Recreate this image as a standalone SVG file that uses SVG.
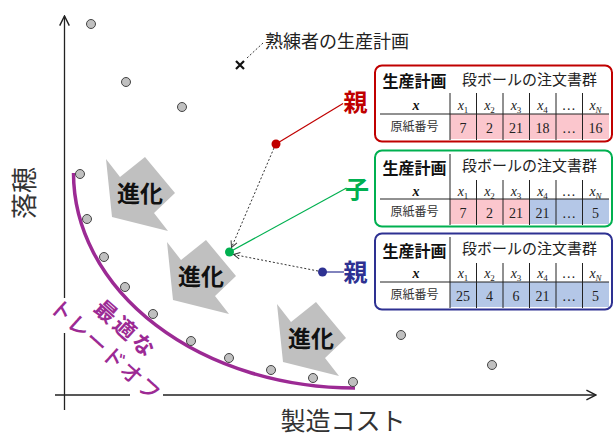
<svg xmlns="http://www.w3.org/2000/svg" width="613" height="437" viewBox="0 0 613 437">
<defs>
<style>
.sans{font-family:"Noto Sans CJK JP","Noto Sans",sans-serif}
.serif{font-family:"Liberation Serif","Times New Roman",serif}
.axis{stroke:#222;stroke-width:1.3;fill:none}
.dot{fill:#c0c0c0;stroke:#444;stroke-width:1}
.evo{fill:#c0c0c0}
.evot{font-family:"Noto Sans CJK JP",sans-serif;font-weight:bold;font-size:23px;fill:#111;text-anchor:middle}
.pink{fill:#fbc6cd}
.blue{fill:#b4c7e7}
.sep{stroke:#222;stroke-width:1;fill:none}
.hd{font-family:"Noto Sans CJK JP",sans-serif;font-weight:bold;font-size:16px;fill:#111;text-anchor:middle}
.hd2{font-family:"Noto Sans CJK JP",sans-serif;font-size:15px;fill:#222}
.lab{font-family:"Noto Sans CJK JP",sans-serif;font-size:12px;fill:#333;text-anchor:middle}
.xh{font-family:"Liberation Serif",serif;font-style:italic;font-size:14px;fill:#222;text-anchor:middle}
.xb{font-family:"Liberation Serif",serif;font-style:italic;font-weight:bold;font-size:14px;fill:#111;text-anchor:middle}
.val{font-family:"Liberation Serif",serif;font-size:14px;fill:#222;text-anchor:middle}
.rel{font-family:"Noto Sans CJK JP",sans-serif;font-weight:bold;font-size:24px;text-anchor:middle}
.dotted{stroke:#333;stroke-width:1;stroke-dasharray:2,2;fill:none}
</style>
<marker id="ah" viewBox="0 0 10 10" refX="9" refY="5" markerWidth="8" markerHeight="8" markerUnits="userSpaceOnUse" orient="auto"><path d="M1,1 L9,5 L1,9" fill="none" stroke="#333" stroke-width="1.2"/></marker>
<marker id="axh" viewBox="0 0 10 10" refX="9" refY="5" markerWidth="12" markerHeight="12" markerUnits="userSpaceOnUse" orient="auto"><path d="M1,1 L9,5 L1,9" fill="none" stroke="#222" stroke-width="1.2"/></marker>
<polygon id="evoShape" class="evo" points="-34,-35 -20,-17 5,-37 35,-1 14,19 28,37 -28,23"/>
</defs>

<g id="axes">
<path class="axis" d="M64.5,410 L64.5,333 M64.5,298 L64.5,16" marker-end="url(#axh)"/>
<path class="axis" d="M55,395 L130,395 M163,395 L596,395" marker-end="url(#axh)"/>
<text class="sans" font-size="26" fill="#333" text-anchor="middle" transform="translate(34,193) rotate(-90)">落穂</text>
<text class="sans" font-size="25" fill="#333" text-anchor="middle" x="343" y="429.5">製造コスト</text>
</g>

<g id="evolution">
<g id="evo1" transform="translate(140,194)"><use href="#evoShape"/><text class="evot" x="0" y="8">進化</text></g>
<g id="evo2" transform="translate(201,277)"><use href="#evoShape"/><text class="evot" x="0" y="8">進化</text></g>
<g id="evo3" transform="translate(311,339)"><use href="#evoShape"/><text class="evot" x="0" y="8">進化</text></g>
</g>

<g id="tradeoff">
<path d="M73.5,173 A281,215 0 0 0 355,388" fill="none" stroke="#9c2a94" stroke-width="3.5"/>
<g transform="translate(115,339) rotate(42)">
<text class="sans" font-size="22" font-weight="bold" fill="#9c2a94" text-anchor="middle" letter-spacing="3" x="1.5" y="-6.5">最適な</text>
<text class="sans" font-size="22" font-weight="500" fill="#9c2a94" text-anchor="middle" letter-spacing="1.5" x="0.75" y="22.5">トレードオフ</text>
</g>
</g>

<g id="points">
<circle class="dot" cx="91" cy="24" r="4.5"/>
<circle class="dot" cx="126" cy="82" r="4.5"/>
<circle class="dot" cx="182" cy="107" r="4.5"/>
<circle class="dot" cx="80" cy="174" r="4.5"/>
<circle class="dot" cx="87" cy="219" r="4.5"/>
<circle class="dot" cx="104" cy="257" r="4.5"/>
<circle class="dot" cx="125" cy="287" r="4.5"/>
<circle class="dot" cx="153" cy="314" r="4.5"/>
<circle class="dot" cx="191" cy="341" r="4.5"/>
<circle class="dot" cx="229" cy="358" r="4.5"/>
<circle class="dot" cx="271" cy="370" r="4.5"/>
<circle class="dot" cx="313" cy="378" r="4.5"/>
<circle class="dot" cx="353" cy="382" r="4.5"/>
<circle class="dot" cx="401" cy="335" r="4.5"/>
<circle class="dot" cx="492" cy="365" r="4.5"/>
</g>

<g id="expert">
<path d="M236,61 L244,69 M244,61 L236,69" stroke="#111" stroke-width="2.2"/>
<path class="dotted" d="M247,58 L263,43"/>
<text class="sans" font-size="18" fill="#222" x="265" y="48">熟練者の生産計画</text>
</g>

<g id="connectors">
<line x1="276" y1="144" x2="343" y2="103.5" stroke="#c00000" stroke-width="1.2"/>
<line x1="229.5" y1="252" x2="346.5" y2="188" stroke="#00b050" stroke-width="1.2"/>
<line x1="322.5" y1="272" x2="344" y2="272" stroke="#2e3192" stroke-width="1.2"/>
<path class="dotted" d="M274,148 L231.5,247.5" marker-end="url(#ah)"/>
<path class="dotted" d="M318,271 L233.5,254.5" marker-end="url(#ah)"/>
</g>

<g id="parentA">
<circle cx="276" cy="144" r="4.5" fill="#c00000"/>
<text class="rel" fill="#c00000" x="355.5" y="111">親</text>
</g>
<g id="child">
<circle cx="229.5" cy="252" r="4.5" fill="#00b050"/>
<text class="rel" fill="#00b050" x="357" y="198">子</text>
</g>
<g id="parentB">
<circle cx="322.5" cy="272" r="4.5" fill="#2e3192"/>
<text class="rel" fill="#2e3192" x="355.5" y="281">親</text>
</g>

<g id="tableA" transform="translate(0,65)">
<rect x="375" y="0.5" width="237" height="76" rx="7" fill="#fff" stroke="#c00000" stroke-width="2"/>
<rect class="pink" x="450" y="49" width="159" height="25"/>
<text class="hd" x="414.5" y="22">生産計画</text>
<text class="hd2" x="462" y="20">段ボールの注文書群</text>
<path class="sep" d="M450,28 V75 M476.5,28 V75 M503,28 V75 M529.5,28 V75 M556,28 V75 M582.5,28 V75 M380,49 H609"/>
<text class="xb" x="416" y="45">x</text>
<text class="xh" x="463" y="45">x<tspan font-size="9" font-style="normal" dy="3">1</tspan></text>
<text class="xh" x="489.5" y="45">x<tspan font-size="9" font-style="normal" dy="3">2</tspan></text>
<text class="xh" x="516" y="45">x<tspan font-size="9" font-style="normal" dy="3">3</tspan></text>
<text class="xh" x="542.5" y="45">x<tspan font-size="9" font-style="normal" dy="3">4</tspan></text>
<text class="xh" x="569" y="45">…</text>
<text class="xh" x="595.5" y="45">x<tspan font-size="9" dy="3">N</tspan></text>
<text class="lab" x="414.5" y="65.5">原紙番号</text>
<text class="val" x="463" y="68">7</text>
<text class="val" x="489.5" y="68">2</text>
<text class="val" x="516" y="68">21</text>
<text class="val" x="542.5" y="68">18</text>
<text class="val" x="569" y="68">…</text>
<text class="val" x="595.5" y="68">16</text>
</g>

<g id="tableC" transform="translate(0,150)">
<rect x="375" y="0.5" width="237" height="76" rx="7" fill="#fff" stroke="#00b050" stroke-width="2"/>
<rect class="pink" x="450" y="49" width="79.5" height="25"/>
<rect class="blue" x="529.5" y="49" width="79.5" height="25"/>
<text class="hd" x="414.5" y="24">生産計画</text>
<text class="hd2" x="462" y="21">段ボールの注文書群</text>
<path class="sep" d="M450,4 V75 M476.5,30 V75 M503,30 V75 M529.5,30 V75 M556,30 V75 M582.5,30 V75 M380,49 H609"/>
<text class="xb" x="416" y="46">x</text>
<text class="xh" x="463" y="46">x<tspan font-size="9" font-style="normal" dy="3">1</tspan></text>
<text class="xh" x="489.5" y="46">x<tspan font-size="9" font-style="normal" dy="3">2</tspan></text>
<text class="xh" x="516" y="46">x<tspan font-size="9" font-style="normal" dy="3">3</tspan></text>
<text class="xh" x="542.5" y="46">x<tspan font-size="9" font-style="normal" dy="3">4</tspan></text>
<text class="xh" x="569" y="46">…</text>
<text class="xh" x="595.5" y="46">x<tspan font-size="9" dy="3">N</tspan></text>
<text class="lab" x="414.5" y="65.5">原紙番号</text>
<text class="val" x="463" y="68">7</text>
<text class="val" x="489.5" y="68">2</text>
<text class="val" x="516" y="68">21</text>
<text class="val" x="542.5" y="68">21</text>
<text class="val" x="569" y="68">…</text>
<text class="val" x="595.5" y="68">5</text>
</g>

<g id="tableB" transform="translate(0,233)">
<rect x="375" y="0.5" width="237" height="76" rx="7" fill="#fff" stroke="#2e3192" stroke-width="2"/>
<rect class="blue" x="450" y="49" width="159" height="25"/>
<text class="hd" x="414.5" y="24">生産計画</text>
<text class="hd2" x="462" y="21">段ボールの注文書群</text>
<path class="sep" d="M450,4 V75 M476.5,30 V75 M503,30 V75 M529.5,30 V75 M556,30 V75 M582.5,30 V75 M380,49 H609"/>
<text class="xb" x="416" y="45">x</text>
<text class="xh" x="463" y="45">x<tspan font-size="9" font-style="normal" dy="3">1</tspan></text>
<text class="xh" x="489.5" y="45">x<tspan font-size="9" font-style="normal" dy="3">2</tspan></text>
<text class="xh" x="516" y="45">x<tspan font-size="9" font-style="normal" dy="3">3</tspan></text>
<text class="xh" x="542.5" y="45">x<tspan font-size="9" font-style="normal" dy="3">4</tspan></text>
<text class="xh" x="569" y="45">…</text>
<text class="xh" x="595.5" y="45">x<tspan font-size="9" dy="3">N</tspan></text>
<text class="lab" x="414.5" y="65.5">原紙番号</text>
<text class="val" x="463" y="68">25</text>
<text class="val" x="489.5" y="68">4</text>
<text class="val" x="516" y="68">6</text>
<text class="val" x="542.5" y="68">21</text>
<text class="val" x="569" y="68">…</text>
<text class="val" x="595.5" y="68">5</text>
</g>
</svg>
